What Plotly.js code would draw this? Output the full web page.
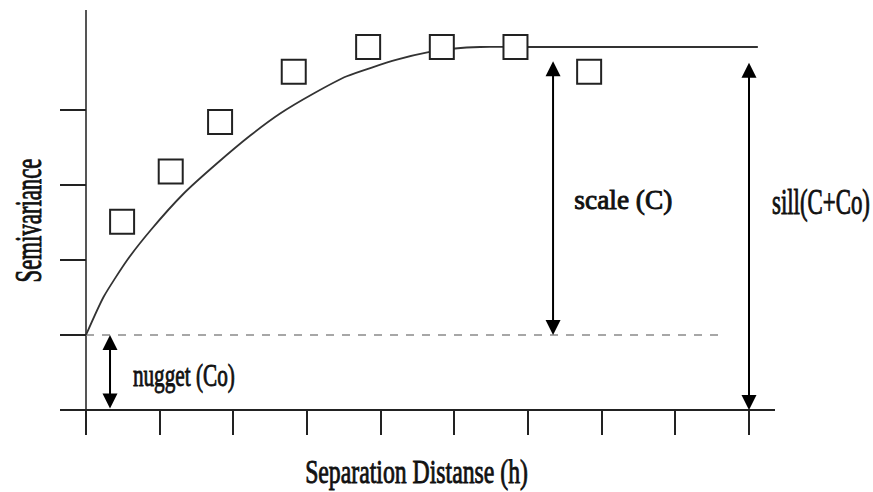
<!DOCTYPE html>
<html>
<head>
<meta charset="utf-8">
<script src="https://cdn.plot.ly/plotly-3.0.1.min.js"></script>
<style>
  html, body { margin: 0; padding: 0; background: #ffffff; }
  #chart { width: 873px; height: 492px; }
</style>
</head>
<body>
<div id="chart"></div>
<script>
// ---- data ----
var obsLag = [0.49, 1.15, 1.82, 2.82, 3.83, 4.83, 5.83, 6.83];
var obsSemivariance = [2.51, 3.18, 3.84, 4.51, 4.84, 4.84, 4.84, 4.51];

var modelLag = [0, 0.24, 0.56, 0.88, 1.33, 1.78, 2.23, 2.63, 3.09, 3.54, 4.22, 4.65, 5.01, 5.35, 5.8, 9.12];
var modelSemivariance = [1.0, 1.51, 2.0, 2.4, 2.89, 3.29, 3.66, 3.95, 4.22, 4.45, 4.67, 4.77, 4.82, 4.84, 4.84, 4.84];

var nugget = 1.0;          // Co
var sill = 4.84;           // C + Co
var nuggetLineLag = [0, 8.65];
var nuggetLineValue = [nugget, nugget];

var xTicks = [0, 1, 2, 3, 4, 5, 6, 7, 8, 9];
var yTicks = [0, 1, 2, 3, 4];

var xTitle = 'Separation Distanse (h)';
var yTitle = 'Semivariance';
var nuggetLabel = 'nugget (Co)';
var scaleLabel = 'scale (C)';
var sillLabel = 'sill(C+Co)';

// ---- drawing ----
var serif = 'Liberation Serif, Times New Roman, serif';

var traces = [
  {
    x: nuggetLineLag, y: nuggetLineValue, type: 'scatter', mode: 'lines',
    line: {color: '#8a8a8a', width: 1.6, dash: '8px,8px'},
    hoverinfo: 'skip', showlegend: false
  },
  {
    x: modelLag, y: modelSemivariance, type: 'scatter', mode: 'lines',
    line: {color: '#333333', width: 1.8, shape: 'spline', smoothing: 0.6},
    hoverinfo: 'skip', showlegend: false
  },
  {
    x: obsLag, y: obsSemivariance, type: 'scatter', mode: 'markers',
    marker: {symbol: 'square', size: 24, color: '#ffffff', line: {color: '#222222', width: 2}},
    hoverinfo: 'skip', showlegend: false
  }
];

function arrow(xPos, yFrom, yTo) {
  return {
    x: xPos, y: yTo, ax: xPos, ay: yFrom,
    xref: 'x', yref: 'y', axref: 'x', ayref: 'y',
    text: '', showarrow: true,
    arrowside: 'end+start',
    arrowhead: 2, startarrowhead: 2,
    arrowsize: 1.5, startarrowsize: 1.5,
    arrowwidth: 2, arrowcolor: '#000000',
    standoff: 0, startstandoff: 0
  };
}

function font(size) {
  return {family: serif, size: size, color: '#111111'};
}

var annotations = [
  arrow(0.326, 0, nugget),
  arrow(6.34, 4.67, nugget),
  arrow(9.0, 4.65, 0),
  {x: 1.33, y: 0.467, xref: 'x', yref: 'y', text: nuggetLabel, showarrow: false,
   xanchor: 'center', yanchor: 'middle', font: font(32)},
  {x: 7.30, y: 2.8, xref: 'x', yref: 'y', text: scaleLabel, showarrow: false,
   xanchor: 'center', yanchor: 'middle', font: font(27)},
  {x: 1.065, y: 0.548, xref: 'paper', yref: 'paper', text: sillLabel, showarrow: false,
   xanchor: 'center', yanchor: 'middle', font: font(35)},
  {x: 0.498, y: -0.087, xref: 'paper', yref: 'paper', text: xTitle, showarrow: false,
   xanchor: 'center', yanchor: 'middle', font: font(34)},
  {x: -0.0448, y: 0.506, xref: 'paper', yref: 'paper', text: yTitle, showarrow: false,
   textangle: -90, xanchor: 'center', yanchor: 'middle', font: font(38)}
];
// condensed, heavy lettering of the original: target length of each label along its baseline (px)
var labelLength = {3: 102, 4: 98, 5: 98, 6: 223, 7: 124};

var layout = {
  width: 873, height: 492,
  margin: {l: 60, r: 98, t: 10, b: 57, pad: 0},
  paper_bgcolor: '#ffffff', plot_bgcolor: '#ffffff',
  showlegend: false,
  xaxis: {
    range: [-0.353, 9.353],
    tickvals: xTicks, showticklabels: false,
    ticks: 'inside', ticklen: 25, tickwidth: 2, tickcolor: '#222222',
    showgrid: false, showline: false,
    zeroline: true, zerolinecolor: '#555555', zerolinewidth: 2.2,
    fixedrange: true
  },
  yaxis: {
    range: [-0.333, 5.333],
    tickvals: yTicks, showticklabels: false,
    ticks: 'inside', ticklen: 26, tickwidth: 2, tickcolor: '#222222',
    showgrid: false, showline: false,
    zeroline: true, zerolinecolor: '#222222', zerolinewidth: 2.2,
    fixedrange: true
  },
  annotations: annotations
};

Plotly.newPlot('chart', traces, layout, {displayModeBar: false, staticPlot: true}).then(function (gd) {
  var groups = gd.querySelectorAll('.annotation');
  groups.forEach(function (g) {
    var idx = +g.getAttribute('data-index');
    var target = labelLength[idx];
    if (!target) return;
    var t = g.querySelector('text.annotation-text');
    if (!t) return;
    var bb = t.getBBox();
    if (!bb.width) return;
    var s = target / bb.width;
    var cx = bb.x + bb.width / 2;
    t.setAttribute('transform', 'translate(' + cx + ',0) scale(' + s + ',1) translate(' + (-cx) + ',0)');
    t.style.stroke = '#111111';
    t.style.strokeWidth = '0.9px';
  });
});
</script>
</body>
</html>
